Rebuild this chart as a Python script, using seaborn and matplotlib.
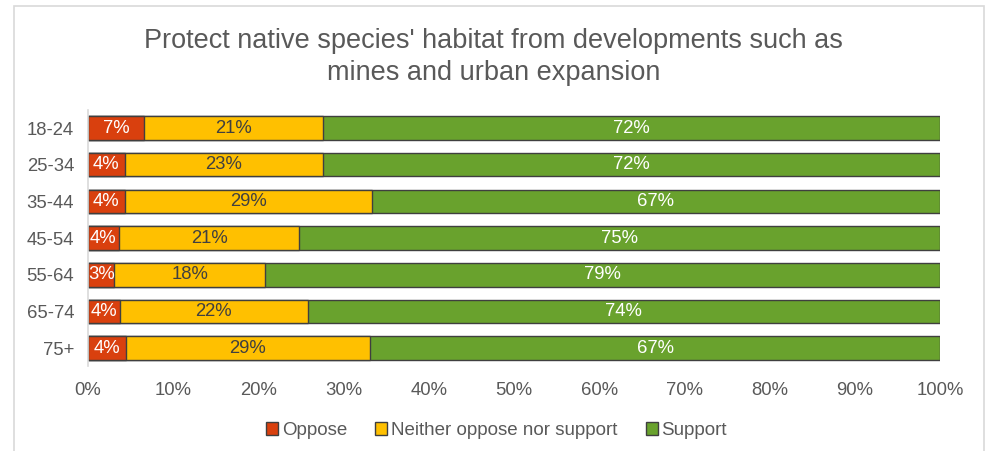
import matplotlib
matplotlib.use("Agg")
import matplotlib.pyplot as plt
import matplotlib.patches as mpatches
import seaborn as sns
import pandas as pd
import numpy as np

age_groups = ["18-24", "25-34", "35-44", "45-54", "55-64", "65-74", "75+"]
oppose = [6.6, 4.3, 4.3, 3.6, 3.1, 3.7, 4.4]
neither = [21.0, 23.3, 29.0, 21.2, 17.7, 22.1, 28.7]
support = [72.4, 72.4, 66.7, 75.2, 79.2, 74.2, 66.9]
series_names = ["Oppose", "Neither oppose nor support", "Support"]
x_ticks = [0, 10, 20, 30, 40, 50, 60, 70, 80, 90, 100]
title = "Protect native species' habitat from developments such as\nmines and urban expansion"

colors = ["#D9400E", "#FFC000", "#69A22D"]
text_colors = ["white", "#404040", "white"]
edge = "#3F3F3F"

sns.set_theme(style="white")
plt.rcParams["font.family"] = ["Liberation Sans", "DejaVu Sans"]

df = pd.DataFrame({"age": age_groups, "oppose": oppose, "neither": neither, "support": support})
df["c1"] = df["oppose"]
df["c2"] = df["oppose"] + df["neither"]
df["c3"] = df["oppose"] + df["neither"] + df["support"]

fig = plt.figure(figsize=(9.87, 4.51), dpi=100)
ax = fig.add_axes([0.0892, 0.1874, 0.8632, 0.5694])

for col, c in zip(["c3", "c2", "c1"], colors[::-1]):
    sns.barplot(data=df, x=col, y="age", orient="h", color=c, width=0.64,
                edgecolor=edge, linewidth=1.0, saturation=1, ax=ax, order=age_groups)

# labels
for i, row in df.iterrows():
    starts = [0, row["c1"], row["c2"]]
    vals = [row["oppose"], row["neither"], row["support"]]
    for s, v, tc in zip(starts, vals, text_colors):
        ax.text(s + v / 2, i, f"{round(v):d}%", ha="center", va="center",
                color=tc, fontsize=13.3)

ax.set_xlim(0, 100)
ax.set_ylim(6.5, -0.5)
ax.set_xticks(x_ticks)
ax.set_xticklabels([f"{t}%" for t in x_ticks], color="#595959", fontsize=13.3)
ax.tick_params(axis="y", labelcolor="#595959", labelsize=13.3, length=0, pad=10)
ax.tick_params(axis="x", length=0, pad=11)
ax.set_xlabel("")
ax.set_ylabel("")
for sp in ["top", "right", "bottom"]:
    ax.spines[sp].set_visible(False)
ax.spines["left"].set_color("#D9D9D9")
ax.spines["left"].set_linewidth(1.2)

fig.text(0.5, 0.874, title, ha="center", va="center", fontsize=19.5,
         color="#595959", linespacing=1.33)

handles = [mpatches.Patch(facecolor=c, edgecolor=edge, linewidth=1.0, label=n)
           for c, n in zip(colors, series_names)]
fig.legend(handles=handles, loc="center", bbox_to_anchor=(0.503, 0.045), ncol=3,
           frameon=False, fontsize=13.5, handlelength=0.65, handleheight=0.65,
           handletextpad=0.2, columnspacing=1.5, labelcolor="#595959")

# outer chart frame
fig.patches.append(mpatches.Rectangle((14 / 987, -0.05), (984 - 14) / 987, 1 - 6 / 451 + 0.05,
                                      transform=fig.transFigure, fill=False,
                                      edgecolor="#D9D9D9", linewidth=1.2))

fig.savefig("out.png", dpi=100, facecolor="white")
